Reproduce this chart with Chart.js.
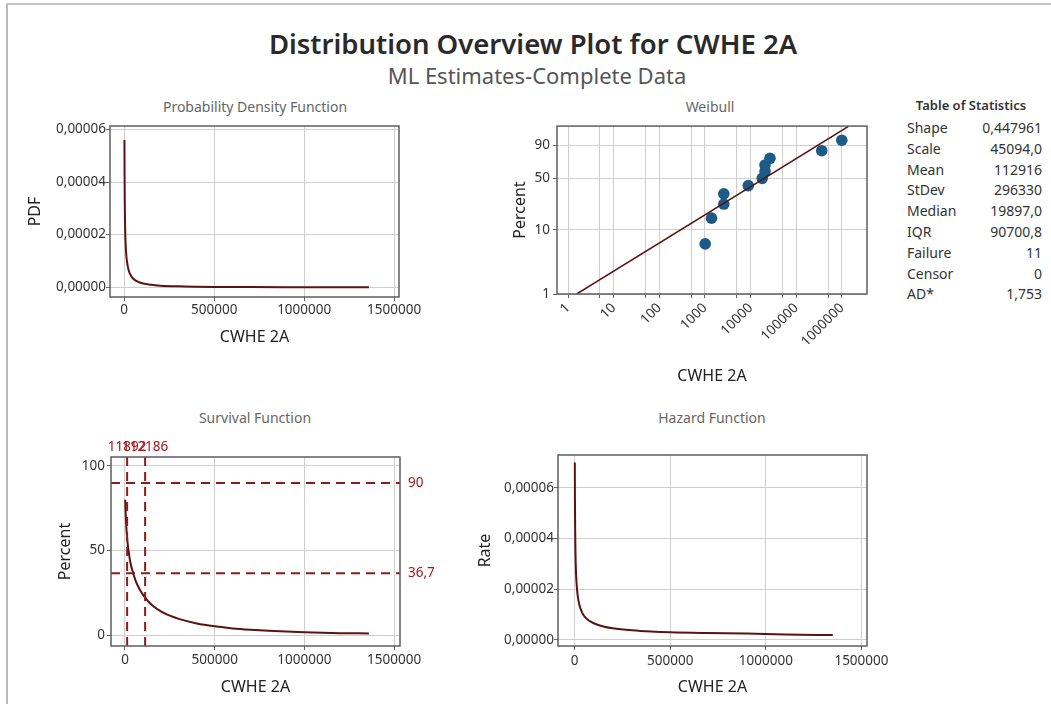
<!DOCTYPE html>
<html><head><meta charset="utf-8">
<script src="https://cdn.jsdelivr.net/npm/chart.js@4.4.0/dist/chart.umd.min.js"></script>
<style>
body{margin:0;width:1051px;height:704px;background:#fff;position:relative;overflow:hidden;font-family:"Noto Sans",sans-serif}
canvas{position:absolute}
.t{position:absolute;white-space:nowrap;transform:translate(-50%,-50%)}
.lab{position:absolute;white-space:nowrap;transform:translateY(-50%);font-size:14px;color:#333}
.val{position:absolute;white-space:nowrap;transform:translate(-100%,-50%);font-size:14px;color:#333}
</style></head><body>
<div style="position:absolute;left:6px;top:4px;width:2px;height:700px;background:#b8b8b8"></div>
<div style="position:absolute;left:6px;top:3px;width:1045px;height:2px;background:#c4c4c4"></div>
<div class="t" style="left:533px;top:43px;font-size:27.5px;font-weight:600;color:#2a2a2a">Distribution Overview Plot for CWHE 2A</div>
<div class="t" style="left:537px;top:75px;font-size:22px;color:#555">ML Estimates-Complete Data</div>
<div class="t" style="left:255px;top:106px;font-size:14px;color:#666">Probability Density Function</div>
<div class="t" style="left:710px;top:106px;font-size:14px;color:#666">Weibull</div>
<div class="t" style="left:255px;top:417px;font-size:14px;color:#666">Survival Function</div>
<div class="t" style="left:712px;top:417px;font-size:14px;color:#666">Hazard Function</div>
<div class="t" style="left:971px;top:105px;font-size:13px;font-weight:600;color:#333">Table of Statistics</div>
<div id="stats"></div>
<script>
// ---------- data ----------
const xTicks = [0, 500000, 1000000, 1500000];
const pdfYTicks = [0, 0.00002, 0.00004, 0.00006];
const survYTicks = [0, 50, 100];
const hazYTicks = [0, 0.00002, 0.00004, 0.00006];
const weibullXTicks = [1, 10, 100, 1000, 10000, 100000, 1000000];
const weibullXMinor = [5, 50, 500, 5000, 50000, 500000];
const weibullYTicks = [1, 10, 50, 90];

const pdfX = [1300, 2000, 3000, 4500, 6000, 8000, 10000, 15000, 25000, 40000, 60000, 80000, 100000, 150000, 200000, 300000, 400000, 500000, 700000, 900000, 1100000, 1360000];
const pdfY = [0.000056, 0.000043, 0.000033, 0.000025, 0.0000201, 0.0000163, 0.0000137, 0.0000099, 0.0000064, 0.0000041, 0.0000027, 0.000002, 0.0000015, 0.00000092, 0.00000062, 0.00000034, 0.00000021, 0.00000014, 0.00000007, 0.00000004, 0.00000003, 0.00000002];

const survX = [1500, 3000, 5000, 7500, 10000, 15000, 20000, 30000, 45000, 60000, 80000, 100000, 130000, 160000, 200000, 250000, 300000, 400000, 500000, 600000, 700000, 800000, 900000, 1000000, 1100000, 1200000, 1360000];
const survY = [80, 74, 69, 64, 60, 54, 50, 43, 37, 32, 27.5, 24, 20, 17, 14.2, 11.6, 9.7, 7, 5.3, 4.1, 3.3, 2.7, 2.2, 1.8, 1.5, 1.3, 1.1];

const hazX = [1300, 2000, 3000, 4500, 6000, 8000, 10000, 15000, 25000, 40000, 60000, 80000, 100000, 150000, 200000, 300000, 400000, 500000, 700000, 900000, 1100000, 1350000];
const hazY = [0.00007, 0.0000555, 0.0000443, 0.0000355, 0.0000302, 0.0000258, 0.0000228, 0.0000182, 0.0000138, 0.0000106, 0.0000085, 0.0000073, 0.0000065, 0.0000052, 0.0000045, 0.0000037, 0.0000032, 0.0000029, 0.0000026, 0.0000024, 0.000002, 0.0000018];

const weibullX = [1010, 1390, 2580, 2580, 8870, 17900, 20600, 20600, 26500, 360000, 990000];
const weibullPct = [6.1, 14.9, 23.7, 32.5, 41.2, 50.0, 58.8, 67.5, 76.3, 85.1, 93.9];
const fitX = [1.55, 1360000];
const fitPct = [1, 99];

const refPct = [90, 36.7];
const refX = [11892, 112186];

const statNames = ['Shape', 'Scale', 'Mean', 'StDev', 'Median', 'IQR', 'Failure', 'Censor', 'AD*'];
const statValues = ['0,447961', '45094,0', '112916', '296330', '19897,0', '90700,8', '11', '0', '1,753'];

// ---------- helpers ----------
const FONT = '"Noto Sans", sans-serif';
const CURVE = '#5c1212';
const wt = p => Math.log(-Math.log(1 - p / 100));
const comma = v => String(v).replace('.', ',');
const fmt5 = v => v.toFixed(5).replace('.', ',');
const pts = (xs, ys) => xs.map((x, i) => ({x, y: ys[i]}));

const st = document.getElementById('stats');
statNames.forEach((n, i) => {
  const y = 127 + i * 20.8;
  st.insertAdjacentHTML('beforeend', `<div class="lab" style="left:907px;top:${y}px">${n}</div><div class="val" style="left:1042px;top:${y}px">${statValues[i]}</div>`);
});

const framePlugin = {
  id: 'frame',
  afterDraw(chart) {
    const {ctx, chartArea: a} = chart;
    ctx.save();
    ctx.strokeStyle = '#5e5e5e'; ctx.lineWidth = 1.5;
    ctx.strokeRect(a.left, a.top, a.right - a.left, a.bottom - a.top);
    ctx.restore();
  }
};

const refPlugin = {
  id: 'refs',
  afterDatasetsDraw(chart) {
    const {ctx, chartArea: a, scales: {x, y}} = chart;
    ctx.save();
    ctx.strokeStyle = '#8a1c1c'; ctx.lineWidth = 2; ctx.setLineDash([9, 6]);
    const seg = (x1, y1, x2, y2) => { ctx.beginPath(); ctx.moveTo(x1, y1); ctx.lineTo(x2, y2); ctx.stroke(); };
    refPct.forEach(p => { const py = y.getPixelForValue(p); seg(a.left, py, a.right, py); });
    refX.forEach(v => { const px = x.getPixelForValue(v); seg(px, a.top, px, a.bottom); });
    ctx.setLineDash([]);
    ctx.fillStyle = '#a3181c'; ctx.font = '13.5px ' + FONT;
    ctx.textAlign = 'left'; ctx.textBaseline = 'middle';
    refPct.forEach(p => ctx.fillText(comma(p), a.right + 8, y.getPixelForValue(p)));
    ctx.textAlign = 'center';
    refX.forEach(v => ctx.fillText(comma(v), x.getPixelForValue(v), a.top - 10));
    ctx.restore();
  }
};

function grid() { return {color: '#cfcfcf', lineWidth: 1, tickLength: 4, tickColor: '#666'}; }
function tickFont() { return {family: FONT, size: 13.5}; }
function titleOpt(text, pad) { return {display: true, text, color: '#222', font: {family: FONT, size: 16}, padding: pad}; }

function linX(min, max, hx, pb, pad) {
  return {
    type: 'linear', min, max,
    afterBuildTicks: s => { s.ticks = xTicks.map(v => ({value: v})); },
    afterFit: s => { s.height = hx; },
    ticks: {color: '#333', font: tickFont(), padding: pad, maxRotation: 0, autoSkip: false, callback: v => String(v)},
    grid: grid(), border: {display: false},
    title: titleOpt('CWHE 2A', {top: 0, bottom: pb})
  };
}
function linY(min, max, ticks, fmt, wy, label, pt, pad) {
  return {
    type: 'linear', min, max,
    afterBuildTicks: s => { s.ticks = ticks.map(v => ({value: v})); },
    afterFit: s => { s.width = wy; },
    ticks: {color: '#333', font: tickFont(), padding: pad, callback: fmt},
    grid: grid(), border: {display: false},
    title: titleOpt(label, {top: pt, bottom: 0})
  };
}

function panel(L, T, W, H, pad, cfg) {
  const c = document.createElement('canvas');
  c.width = W; c.height = H; c.style.left = L + 'px'; c.style.top = T + 'px';
  document.body.appendChild(c);
  cfg.options.responsive = false;
  cfg.options.animation = false;
  cfg.options.layout = {padding: pad, autoPadding: false};
  cfg.options.plugins = Object.assign({legend: {display: false}, tooltip: {enabled: false}}, cfg.options.plugins || {});
  cfg.plugins = (cfg.plugins || []).concat([framePlugin]);
  return new Chart(c, cfg);
}

function curveDs(data) {
  return {data, borderColor: CURVE, borderWidth: 2, pointRadius: 0, fill: false, tension: 0, cubicInterpolationMode: 'monotone'};
}

// PDF
panel(10, 116, 429, 241, {top: 10, right: 40, left: 0, bottom: 0}, {
  type: 'line',
  data: {datasets: [curveDs(pts(pdfX, pdfY))]},
  options: {scales: {
    x: linX(-79000, 1527000, 60, 10, 1),
    y: linY(-0.0000037, 0.0000613, pdfYTicks, v => fmt5(v), 100, 'PDF', 16, 0)
  }}
});

// Weibull
panel(460, 115, 447, 280, {top: 10, right: 40, left: 0, bottom: 0}, {
  type: 'scatter',
  data: {datasets: [
    {data: fitX.map((x, i) => ({x, y: wt(fitPct[i])})), showLine: true, borderColor: CURVE, borderWidth: 1.5, pointRadius: 0},
    {data: weibullX.map((x, i) => ({x, y: wt(weibullPct[i])})), pointRadius: 5.8, pointBackgroundColor: '#1c5a87', pointBorderColor: '#1c5a87', borderWidth: 0}
  ]},
  options: {scales: {
    x: {
      type: 'logarithmic', min: 0.574, max: 3530000,
      afterBuildTicks: s => { s.ticks = weibullXTicks.concat(weibullXMinor).sort((a, b) => a - b).map(v => ({value: v})); },
      afterFit: s => { s.height = 101; },
      ticks: {color: '#333', font: tickFont(), padding: 2, minRotation: 45, maxRotation: 45, autoSkip: false,
        callback: v => weibullXTicks.includes(v) ? String(v) : ''},
      grid: grid(), border: {display: false},
      title: titleOpt('CWHE 2A', {top: 0, bottom: 9})
    },
    y: {
      type: 'linear', min: wt(1), max: 1.545,
      afterBuildTicks: s => { s.ticks = weibullYTicks.map(p => ({value: wt(p)})); },
      afterFit: s => { s.width = 97; },
      ticks: {color: '#333', font: tickFont(), padding: 3, callback: (v, i) => String(weibullYTicks[i])},
      grid: grid(), border: {display: false},
      title: titleOpt('Percent', {top: 51, bottom: 0})
    }
  }}
});

// Survival
panel(10, 430, 440, 274, {top: 27, right: 50, left: 0, bottom: 0}, {
  type: 'line',
  data: {datasets: [curveDs(pts(survX, survY))]},
  options: {scales: {
    x: linX(-78000, 1533000, 58, 7, 2),
    y: linY(-6.3, 105.3, survYTicks, v => String(v), 101, 'Percent', 46, 2)
  }},
  plugins: [refPlugin]
});

// Hazard
panel(460, 445, 447, 259, {top: 10, right: 40, left: 0, bottom: 0}, {
  type: 'line',
  data: {datasets: [curveDs(pts(hazX, hazY))]},
  options: {scales: {
    x: linX(-86600, 1529000, 58, 7, 3),
    y: linY(-0.0000025, 0.000073, hazYTicks, v => fmt5(v), 98, 'Rate', 16, 0)
  }}
});
</script>
</body></html>
